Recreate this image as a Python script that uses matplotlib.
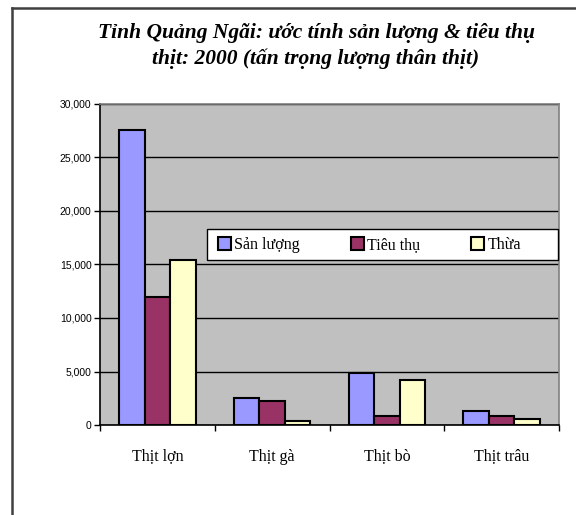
import numpy as np
import matplotlib
matplotlib.use('Agg')
import matplotlib.pyplot as plt
from matplotlib.lines import Line2D
from matplotlib.patches import Rectangle
from matplotlib.ticker import FuncFormatter, MultipleLocator

# data (tấn)
categories = ['Thịt lợn', 'Thịt gà', 'Thịt bò', 'Thịt trâu']
san_luong = [27600, 2500, 4900, 1350]
tieu_thu = [12000, 2200, 800, 800]
thua = [15400, 350, 4200, 530]
series_names = ['Sản lượng', 'Tiêu thụ', 'Thừa']
colors = ['#9999FF', '#993366', '#FFFFCC']

title = 'Tỉnh Quảng Ngãi: ước tính sản lượng & tiêu thụ\nthịt: 2000 (tấn trọng lượng thân thịt)'

fig = plt.figure(figsize=(5.76, 5.15), dpi=100)
ax = fig.add_axes([100 / 576, 1 - 425 / 515, 459 / 576, 321 / 515])

# outer chart frame (only left and top edges visible)
fig.add_artist(Line2D([12 / 576, 12 / 576], [0, 1 - 8 / 515], color='#404040', lw=1.8,
                      transform=fig.transFigure))
fig.add_artist(Line2D([12 / 576, 1], [1 - 8 / 515, 1 - 8 / 515], color='#404040', lw=1.8,
                      transform=fig.transFigure))

x = np.arange(len(categories))
w = 0.222
for k, (vals, name) in enumerate(zip([san_luong, tieu_thu, thua], series_names)):
    ax.bar(x + (k - 1) * w, vals, width=w, color=colors[k], edgecolor='black',
           linewidth=1.5, label=name, zorder=3)

ax.set_facecolor('#C0C0C0')
ax.set_xlim(-0.5, len(categories) - 0.5)
ax.set_ylim(0, 30000)
ax.yaxis.set_major_locator(MultipleLocator(5000))
ax.yaxis.set_major_formatter(FuncFormatter(lambda v, p: f'{int(v):,}'))
ax.grid(axis='y', color='black', lw=1.0, zorder=1)
ax.set_axisbelow(True)

ax.set_xticks(x)
ax.set_xticklabels(categories, fontfamily='Liberation Serif', fontsize=11.5)
ax.set_xticks(np.arange(-0.5, len(categories)), minor=True)
ax.tick_params(axis='x', which='major', length=0, pad=17)
ax.tick_params(axis='x', which='minor', length=4, width=1, direction='out')
ax.tick_params(axis='y', length=4, width=1, direction='out', labelsize=7.5, pad=2)
for lab in ax.get_yticklabels():
    lab.set_fontfamily('Liberation Sans')

for side in ['top', 'right']:
    ax.spines[side].set_color('#808080')
    ax.spines[side].set_linewidth(1.2)
for side in ['left', 'bottom']:
    ax.spines[side].set_color('black')
    ax.spines[side].set_linewidth(1.2)

# legend box (white, black border) with entries laid out like the original
fig.add_artist(Rectangle((207 / 576, 1 - 260 / 515), 351 / 576, 31 / 515,
                         transform=fig.transFigure, facecolor='white',
                         edgecolor='black', lw=1.0, zorder=4))
leg = fig.legend(loc='center left', bbox_to_anchor=(212 / 576, 1 - 245 / 515),
                 ncol=3, frameon=False, handlelength=0.8, handleheight=0.8,
                 handletextpad=0.2, columnspacing=3.2, borderaxespad=0,
                 prop={'family': 'Liberation Serif', 'size': 11.5})
leg.set_zorder(5)

fig.text(316 / 576, 1 - 46 / 515, title, ha='center', va='center', fontsize=15.5,
         fontfamily='Liberation Serif', fontweight='bold', fontstyle='italic', linespacing=1.3)

fig.savefig('out.png', dpi=100, facecolor='white')
